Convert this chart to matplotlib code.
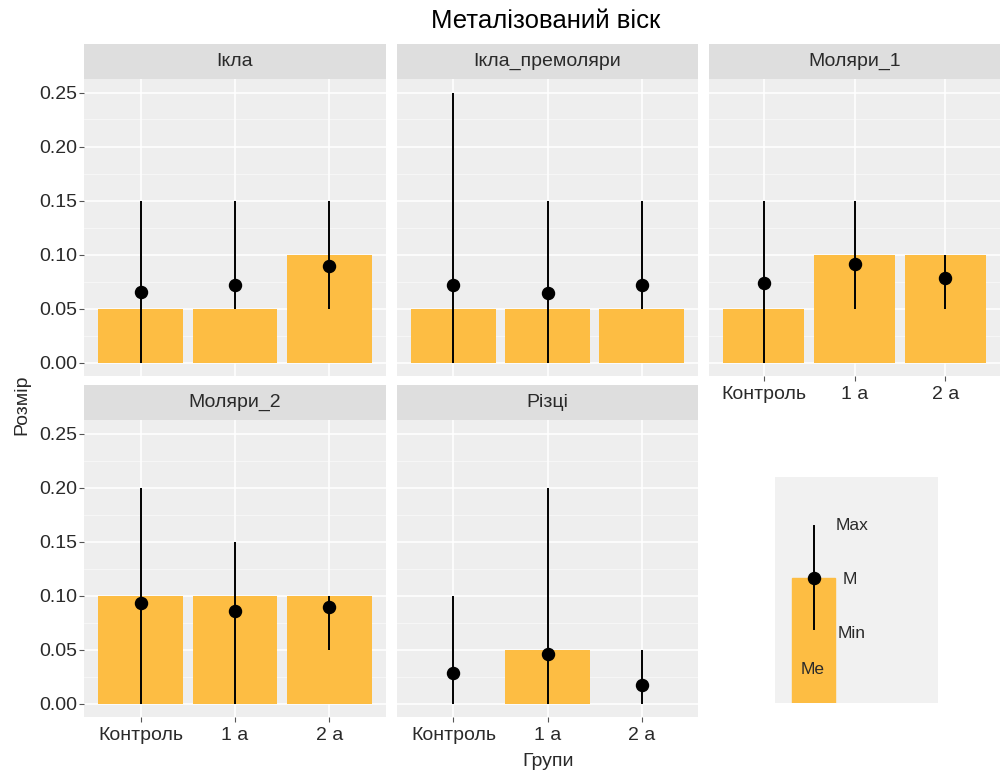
import matplotlib
matplotlib.use("Agg")
import matplotlib.pyplot as plt
from matplotlib.patches import Rectangle
import numpy as np

plt.rcParams['font.family'] = ['Liberation Sans', 'DejaVu Sans']

title = "Металізований віск"
groups = ["Контроль", "1 а", "2 а"]
panels = ["Ікла", "Ікла_премоляри", "Моляри_1", "Моляри_2", "Різці"]

# median (bar), mean (point), min / max (range line) per group
median = {
    "Ікла":           [0.05, 0.05, 0.10],
    "Ікла_премоляри": [0.05, 0.05, 0.05],
    "Моляри_1":       [0.05, 0.10, 0.10],
    "Моляри_2":       [0.10, 0.10, 0.10],
    "Різці":          [0.00, 0.05, 0.00],
}
mean = {
    "Ікла":           [0.065, 0.072, 0.089],
    "Ікла_премоляри": [0.072, 0.064, 0.072],
    "Моляри_1":       [0.074, 0.091, 0.078],
    "Моляри_2":       [0.093, 0.086, 0.089],
    "Різці":          [0.028, 0.046, 0.0175],
}
vmin = {
    "Ікла":           [0.00, 0.05, 0.05],
    "Ікла_премоляри": [0.00, 0.00, 0.05],
    "Моляри_1":       [0.00, 0.05, 0.05],
    "Моляри_2":       [0.00, 0.00, 0.05],
    "Різці":          [0.00, 0.00, 0.00],
}
vmax = {
    "Ікла":           [0.15, 0.15, 0.15],
    "Ікла_премоляри": [0.25, 0.15, 0.15],
    "Моляри_1":       [0.15, 0.15, 0.10],
    "Моляри_2":       [0.20, 0.15, 0.10],
    "Різці":          [0.10, 0.20, 0.05],
}
yticks = [0.00, 0.05, 0.10, 0.15, 0.20, 0.25]

W, H = 1003, 773
fig = plt.figure(figsize=(W / 100, H / 100), dpi=100)
fig.patch.set_facecolor("white")

BAR = "#FDBD43"
PANEL_BG = "#EEEEEE"
STRIP_BG = "#DEDEDE"
TXT = "#2a2a2a"
FS = 14

def px_axes(x0, y0, x1, y1):
    return fig.add_axes([x0 / W, 1 - y1 / H, (x1 - x0) / W, (y1 - y0) / H])

cols = [(84, 386), (397, 698), (709, 1000)]
rows = [(44, 79, 376), (385, 420, 717)]
layout = [(0, 0), (0, 1), (0, 2), (1, 0), (1, 1)]

for name, (r, c) in zip(panels, layout):
    x0, x1 = cols[c]
    s0, p0, p1 = rows[r]
    ax = px_axes(x0, p0, x1, p1)
    ax.set_facecolor(PANEL_BG)
    x = np.arange(len(groups)) + 1
    ax.set_xlim(0.4, 3.6)
    ax.set_ylim(-0.0125, 0.2625)
    for yv in np.arange(0, 0.26, 0.05):
        ax.axhline(yv, color="white", lw=1.1, zorder=0)
    for yv in np.arange(0.025, 0.26, 0.05):
        ax.axhline(yv, color="#F8F8F8", lw=0.6, zorder=0)
    for xv in x:
        ax.axvline(xv, color="white", lw=1.1, zorder=0)
    ax.bar(x, median[name], width=0.9, color=BAR, zorder=2)
    ax.vlines(x, vmin[name], vmax[name], color="black", lw=1.4, zorder=3)
    ax.scatter(x, mean[name], s=75, color="black", zorder=4)
    for sp in ax.spines.values():
        sp.set_visible(False)
    ax.set_yticks(yticks)
    ax.set_xticks(x)
    ax.tick_params(colors="#555555", length=3.5, width=0.8, labelsize=FS,
                   labelcolor=TXT)
    ax.tick_params(axis="y", pad=1.5)
    ax.tick_params(axis="x", pad=4)
    if c == 0:
        ax.set_yticklabels([f"{v:.2f}" for v in yticks])
    else:
        ax.tick_params(axis="y", length=0, labelleft=False)
    if r == 1 or c == 2:
        ax.set_xticklabels(groups)
    else:
        ax.tick_params(axis="x", length=0, labelbottom=False)
    # facet strip
    st = px_axes(x0, s0, x1, p0)
    st.set_facecolor(STRIP_BG)
    st.set_xticks([]); st.set_yticks([])
    for sp in st.spines.values():
        sp.set_visible(False)
    st.text(0.5, 0.5, name, ha="center", va="center", fontsize=FS, color=TXT,
            transform=st.transAxes)

fig.text(546 / W, 1 - 21 / H, title, ha="center", va="center", fontsize=18.5, color="black")
fig.text(22 / W, 1 - 405 / H, "Розмір", ha="center", va="center", rotation=90,
         fontsize=FS, color=TXT)
fig.text(548 / W, 1 - 761 / H, "Групи", ha="center", va="center", fontsize=FS, color=TXT)

# key explaining the marks
lg = px_axes(775, 477, 938, 703)
lg.set_xlim(775, 938)
lg.set_ylim(703, 477)
lg.set_facecolor("#F1F1F1")
for sp in lg.spines.values():
    sp.set_visible(False)
lg.set_xticks([]); lg.set_yticks([])
lg.add_patch(Rectangle((792, 578), 43, 125, color=BAR, zorder=2))
lg.plot([814, 814], [526, 629], color="black", lw=1.4, zorder=3)
lg.scatter([814], [578], s=75, color="black", zorder=4)
lg.text(836, 525, "Max", ha="left", va="center", fontsize=12.5, color=TXT)
lg.text(843, 579, "M", ha="left", va="center", fontsize=12.5, color=TXT)
lg.text(838, 634, "Min", ha="left", va="center", fontsize=12.5, color=TXT)
lg.text(813, 670, "Me", ha="center", va="center", fontsize=12.5, color=TXT)

fig.savefig("out.png", dpi=100)
